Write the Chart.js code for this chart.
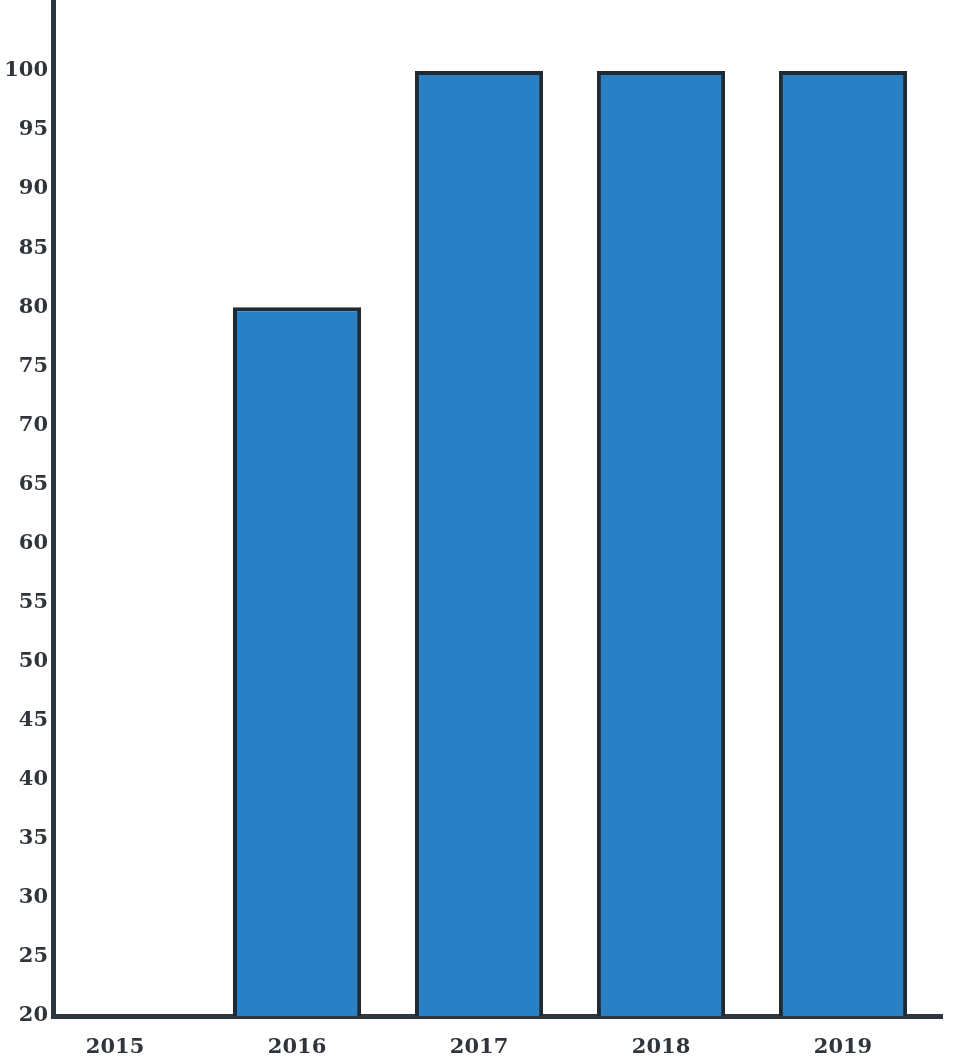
<!DOCTYPE html>
<html>
<head>
<meta charset="utf-8">
<script src="https://cdn.jsdelivr.net/npm/chart.js@4"></script>
<style>
html,body{margin:0;padding:0;background:#fff;}
#wrap{width:965px;height:1061px;position:relative;}
</style>
</head>
<body>
<div id="wrap"><canvas id="c"></canvas></div>
<script>
const categories = ["2015", "2016", "2017", "2018", "2019"];
const values = [0, 80, 100, 100, 100];
const yTicks = [20, 25, 30, 35, 40, 45, 50, 55, 60, 65, 70, 75, 80, 85, 90, 95, 100];

const points = categories.map((c, i) => ({x: i, y: values[i]}));
const axisColor = '#2b3741';
const textColor = '#30353b';
const tickFont = {family: '"DejaVu Serif", serif', size: 21, weight: 'bold'};

new Chart(document.getElementById('c'), {
  type: 'bar',
  data: {
    datasets: [{
      data: points,
      backgroundColor: '#2a80c5',
      borderColor: '#1f2a33',
      borderWidth: 4,
      barPercentage: 0.88,
      categoryPercentage: 0.8
    }]
  },
  options: {
    responsive: true,
    maintainAspectRatio: false,
    animation: false,
    layout: {padding: {top: 0, right: 23, bottom: 0, left: 0}},
    plugins: {legend: {display: false}, tooltip: {enabled: false}},
    scales: {
      x: {
        type: 'linear',
        offset: false,
        min: -0.341,
        max: 4.544,
        grid: {display: false, drawTicks: false},
        border: {display: true, color: axisColor, width: 5},
        ticks: {
          stepSize: 1,
          includeBounds: false,
          autoSkip: false,
          maxRotation: 0,
          color: textColor,
          font: tickFont,
          padding: 19,
          callback: (v) => categories[v] !== undefined ? categories[v] : ''
        },
        afterFit: (s) => { s.height = 45; }
      },
      y: {
        min: 20,
        max: 106,
        grid: {display: false, drawTicks: false},
        border: {display: true, color: axisColor, width: 5},
        afterBuildTicks: (s) => { s.ticks = yTicks.map(v => ({value: v})); },
        ticks: {
          color: textColor,
          font: tickFont,
          padding: 5
        },
        afterFit: (s) => { s.width = 53; s.paddingTop = 0; }
      }
    }
  }
});
</script>
</body>
</html>
